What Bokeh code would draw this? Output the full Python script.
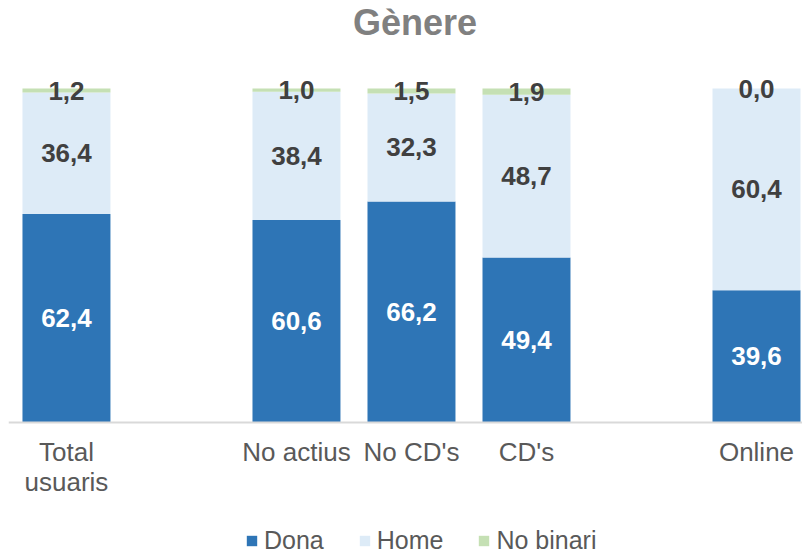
from bokeh.plotting import figure
from bokeh.models import ColumnDataSource, LabelSet, Label, Legend, FixedTicker, Range1d
from bokeh.core.properties import value
from bokeh.embed import file_html
from bokeh.resources import INLINE

# ---- data (blank entries are empty category slots) ----
categories = ["Total\nusuaris", "", "No actius", "No CD's", "CD's", "", "Online"]
dona = [62.4, None, 60.6, 66.2, 49.4, None, 39.6]
home = [36.4, None, 38.4, 32.3, 48.7, None, 60.4]
no_binari = [1.2, None, 1.0, 1.5, 1.9, None, 0.0]
series_names = ["Dona", "Home", "No binari"]
title_text = "Gènere"

colors = ["#2E75B6", "#DDEBF7", "#C5E0B4"]
label_colors = ["#FFFFFF", "#404040", "#404040"]

idx = [i for i, c in enumerate(categories) if dona[i] is not None]
xs = [float(i) for i in idx]
d = [dona[i] for i in idx]
h = [home[i] for i in idx]
nb = [no_binari[i] for i in idx]

src = ColumnDataSource(dict(x=xs, Dona=d, Home=h, NoBinari=nb))

FRAME_W, FRAME_H = 794, 545
PX = 3.34  # pixels per percentage point
y_top = 414 / PX
y_bot = -131 / PX

p = figure(frame_width=FRAME_W, frame_height=FRAME_H, output_backend="svg",
           toolbar_location=None,
           x_range=Range1d(-0.504, 6.4), y_range=Range1d(y_bot, y_top),
           min_border_left=8, min_border_right=0, min_border_top=8,
           min_border_bottom=0)

rs = p.vbar_stack(["Dona", "Home", "NoBinari"], x="x", width=0.765, color=colors,
                  line_color=None, source=src)

fmt = lambda v: f"{v:.1f}".replace(".", ",")
bottoms = [0.0] * len(xs)
for k, vals in enumerate([d, h, nb]):
    mids = [b + v / 2 for b, v in zip(bottoms, vals)]
    lsrc = ColumnDataSource(dict(x=xs, y=mids, t=[fmt(v) for v in vals]))
    p.add_layout(LabelSet(x="x", y="y", text="t", source=lsrc, text_align="center",
                          text_baseline="middle", text_font=value("Liberation Sans"),
                          text_font_style="bold", text_font_size="26px",
                          text_color=label_colors[k]))
    bottoms = [b + v for b, v in zip(bottoms, vals)]

p.add_layout(Label(x=3.03, y=119.8, text=title_text, text_align="center",
                   text_baseline="alphabetic", text_font="Liberation Sans",
                   text_font_style="bold", text_font_size="36px", text_color="#808080"))

p.xaxis.fixed_location = 0
p.xaxis.ticker = FixedTicker(ticks=xs)
p.xaxis.major_label_overrides = {x: categories[i] for x, i in zip(xs, idx)}
p.xaxis.major_label_text_font = "Liberation Sans"
p.xaxis.major_label_text_font_size = "26px"
p.xaxis.major_label_text_line_height = 1.0
p.xaxis.major_label_text_color = "#595959"
p.xaxis.major_label_standoff = 14
p.xaxis.major_tick_line_color = None
p.xaxis.minor_tick_line_color = None
p.xaxis.major_tick_out = 0
p.xaxis.major_tick_in = 0
p.xaxis.axis_line_color = "#D9D9D9"
p.xaxis.axis_line_width = 2
p.yaxis.visible = False
p.xgrid.visible = False
p.ygrid.visible = False
p.outline_line_color = None

legend = Legend(items=[(n, [r]) for n, r in zip(series_names, rs)],
                orientation="horizontal", location=(237, -2),
                label_text_font="Liberation Sans", label_text_font_size="25px",
                label_text_color="#595959", glyph_width=13, glyph_height=13,
                label_standoff=6, spacing=34, border_line_color=None,
                background_fill_alpha=0, padding=0, margin=0)
p.add_layout(legend, "center")

open("out.html", "w").write(file_html(p, INLINE))
